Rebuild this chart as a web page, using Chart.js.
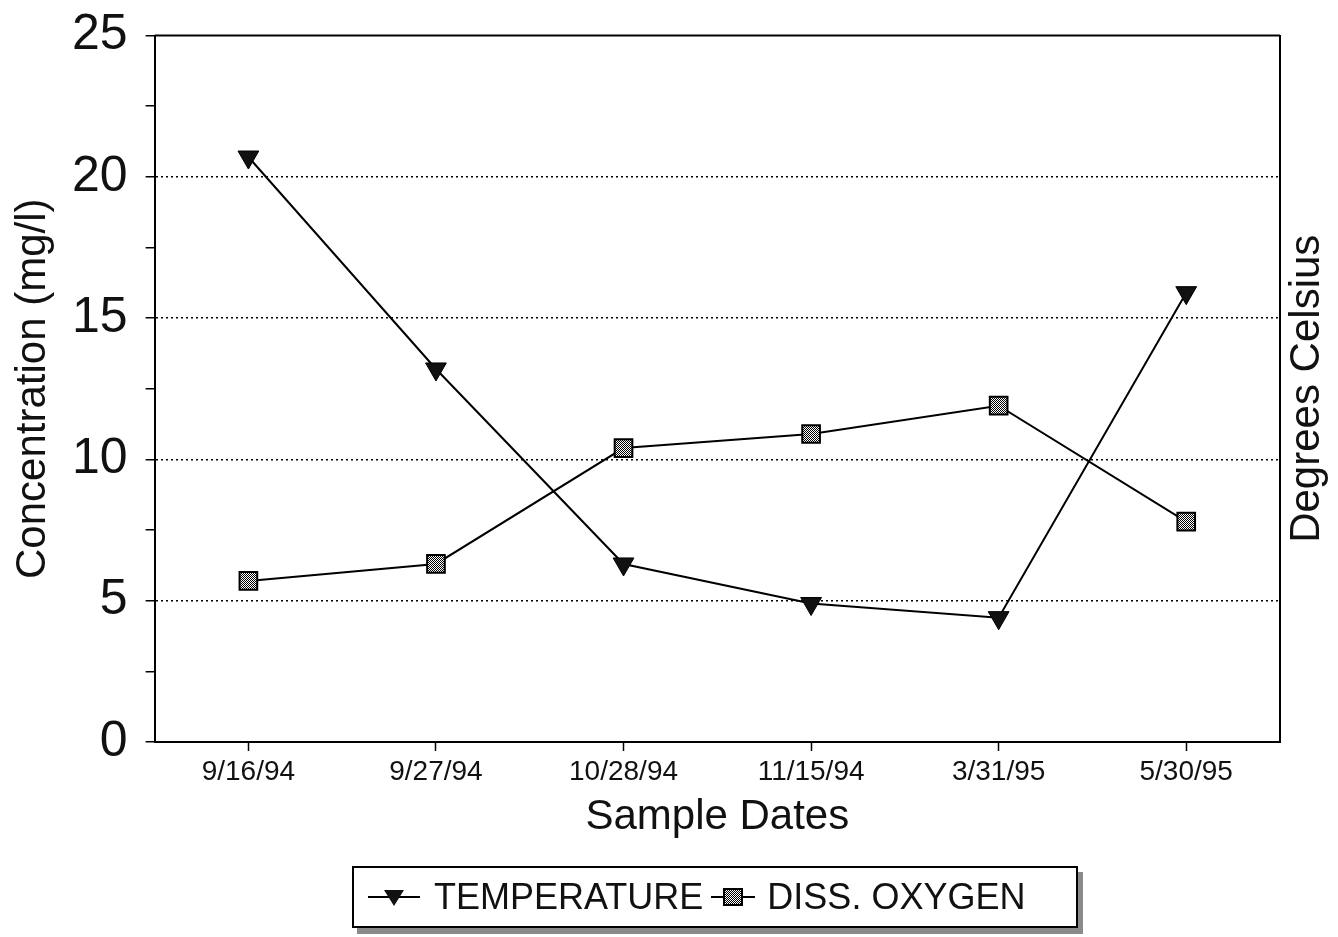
<!DOCTYPE html>
<html>
<head>
<meta charset="utf-8">
<title>Temperature and Dissolved Oxygen</title>
<script src="https://cdn.jsdelivr.net/npm/chart.js@4.4.1/dist/chart.umd.min.js"></script>
<style>
  body { margin: 0; background: #fff; }
  #wrap { position: relative; width: 1338px; height: 937px; }
  #legend {
    position: absolute; left: 352px; top: 866px; width: 722px; height: 58px;
    border: 2px solid #000; box-shadow: 5px 6px 0 #8a8a8a; background: #fff;
    display: flex; align-items: center;
    font-family: "Liberation Sans", Arial, sans-serif; font-size: 36px; color: #111;
  }
  #legend canvas { display: block; }
</style>
</head>
<body>
<div id="wrap">
  <canvas id="chart"></canvas>
  <div id="legend">
    <canvas id="lg-temp" width="56" height="30" style="margin-left:12px;margin-right:12px"></canvas>
    <span>TEMPERATURE</span>
    <canvas id="lg-oxy" width="48" height="30" style="margin-left:6px;margin-right:10px"></canvas>
    <span>DISS. OXYGEN</span>
  </div>
</div>
<script>
// data
const sampleDates = ['9/16/94', '9/27/94', '10/28/94', '11/15/94', '3/31/95', '5/30/95'];
const temperature = [20.7, 13.2, 6.3, 4.9, 4.4, 15.9];
const dissOxygen  = [5.7, 6.3, 10.4, 10.9, 11.9, 7.8];
const gridValues  = [5, 10, 15, 20];

const FONT = '"Liberation Sans", Arial, sans-serif';

// stippled fill like the old printer pattern
function makeStipple() {
    const c = document.createElement('canvas');
    c.width = 2; c.height = 2;
    const g = c.getContext('2d');
    g.fillStyle = '#fff'; g.fillRect(0, 0, 2, 2);
    g.fillStyle = '#000'; g.fillRect(0, 0, 1, 1); g.fillRect(1, 1, 1, 1);
    return g.createPattern(c, 'repeat');
}
const stipple = makeStipple();

// legend samples (line + marker)
function drawLegendSample(id, kind) {
    const cv = document.getElementById(id);
    const g = cv.getContext('2d');
    const w = cv.width, h = cv.height;
    g.strokeStyle = '#000'; g.lineWidth = 2;
    g.beginPath(); g.moveTo(2, h / 2); g.lineTo(w - 2, h / 2); g.stroke();
    if (kind === 'tri') {
        g.fillStyle = '#111';
        g.beginPath();
        g.moveTo(w / 2 - 10, h / 2 - 7); g.lineTo(w / 2 + 10, h / 2 - 7); g.lineTo(w / 2, h / 2 + 9);
        g.closePath(); g.fill();
    } else {
        g.fillStyle = stipple;
        g.fillRect(w / 2 - 9, h / 2 - 8, 18, 16);
        g.strokeRect(w / 2 - 9, h / 2 - 8, 18, 16);
    }
}
drawLegendSample('lg-temp', 'tri');
drawLegendSample('lg-oxy', 'sq');

// top frame line and the right-hand axis title (reads bottom to top)
const framePlugin = {
    id: 'framePlugin',
    afterDraw(chart) {
        const { ctx, chartArea: a } = chart;
        ctx.save();
        ctx.strokeStyle = '#000';
        ctx.lineWidth = 2;
        ctx.beginPath();
        ctx.moveTo(a.left, a.top);
        ctx.lineTo(a.right, a.top);
        ctx.stroke();
        ctx.translate(a.right + 27, (a.top + a.bottom) / 2);
        ctx.rotate(-Math.PI / 2);
        ctx.font = '42px ' + FONT;
        ctx.fillStyle = '#111';
        ctx.textAlign = 'center';
        ctx.textBaseline = 'middle';
        ctx.fillText('Degrees Celsius', 0, 0);
        ctx.restore();
    }
};

new Chart(document.getElementById('chart'), {
    type: 'line',
    data: {
        labels: sampleDates,
        datasets: [
            {
                label: 'TEMPERATURE',
                data: temperature,
                borderColor: '#000',
                borderWidth: 2,
                backgroundColor: '#111',
                pointStyle: 'triangle',
                pointRotation: 180,
                pointRadius: 12,
                pointBorderWidth: 1,
                pointBorderColor: '#000',
                pointBackgroundColor: '#111',
                tension: 0
            },
            {
                label: 'DISS. OXYGEN',
                data: dissOxygen,
                borderColor: '#000',
                borderWidth: 2,
                backgroundColor: stipple,
                pointStyle: 'rect',
                pointRadius: 12.5,
                pointBorderWidth: 2,
                pointBorderColor: '#000',
                pointBackgroundColor: stipple,
                tension: 0
            }
        ]
    },
    options: {
        responsive: true,
        maintainAspectRatio: false,
        animation: false,
        layout: { padding: { left: 4, top: 0, right: 58, bottom: 94 } },
        plugins: {
            legend: { display: false },
            tooltip: { enabled: false }
        },
        scales: {
            x: {
                offset: true,
                grid: {
                    offset: false,
                    drawOnChartArea: false,
                    tickLength: 9,
                    tickColor: '#000',
                    tickWidth: 1.5
                },
                border: { display: true, color: '#000', width: 2 },
                ticks: {
                    padding: 4,
                    color: '#111',
                    font: { family: FONT, size: 28 }
                },
                title: {
                    display: true,
                    text: 'Sample Dates',
                    color: '#111',
                    font: { family: FONT, size: 42 },
                    padding: { top: 0, bottom: 0 }
                }
            },
            y: {
                min: 0,
                max: 25,
                ticks: {
                    stepSize: 2.5,
                    autoSkip: false,
                    padding: 18,
                    color: '#111',
                    font: { family: FONT, size: 50, lineHeight: 0.7 },
                    callback: (v) => (v % 5 === 0 ? String(v) : '')
                },
                grid: {
                    color: (c) => (c.tick && gridValues.includes(c.tick.value) ? '#000' : 'rgba(0,0,0,0)'),
                    lineWidth: 1.5,
                    tickLength: 9,
                    tickColor: '#000',
                    tickWidth: 1.5
                },
                border: { display: true, color: '#000', width: 2, dash: [2, 3] },
                title: {
                    display: true,
                    text: 'Concentration (mg/l)',
                    color: '#111',
                    font: { family: FONT, size: 42, lineHeight: 1 },
                    padding: { top: 8, bottom: 0 }
                }
            },
            y2: {
                position: 'right',
                min: 0,
                max: 25,
                ticks: { display: false },
                grid: { display: false, drawTicks: false },
                border: { display: true, color: '#000', width: 2 }
            }
        }
    },
    plugins: [framePlugin]
});
</script>
</body>
</html>
